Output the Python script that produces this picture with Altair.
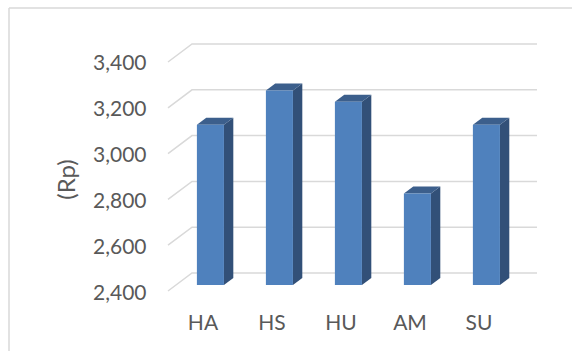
import json
import altair as alt
import pandas as pd

# ---- data -------------------------------------------------------------
CATEGORIES = ["HA", "HS", "HU", "AM", "SU"]
VALUES = [3100, 3250, 3200, 2800, 3100]
Y_TICKS = [2400, 2600, 2800, 3000, 3200, 3400]
Y_TITLE = "(Rp)"

# ---- 3D style constants (in scale units) --------------------------------
BASE = 2400
DEPTH_X = 0.348     # floor depth along x (category units)
DEPTH_Y = 78.6      # floor depth along y (value units)
BAR_FRONT = 0.33    # depth fraction where bar fronts sit
BAR_DEPTH = 0.39    # depth fraction occupied by a bar
BAR_HALF = 0.196    # half bar width (category units)
X_MIN, X_MAX = -0.5, 4.848
Y_MAX = Y_TICKS[-1] + DEPTH_Y

FONT = "Lato"
TEXT_COLOR = "#595959"
GRID_COLOR = "#d9d9d9"
FRONT_COLOR = "#4f81bd"
SIDE_COLOR = "#325078"
TOP_COLOR = "#3c5f8c"

# ---- derived tables ----------------------------------------------------
grid_rows = []
for v in Y_TICKS:
    grid_rows += [
        {"g": v, "o": 0, "x": X_MIN, "y": v},
        {"g": v, "o": 1, "x": X_MIN + DEPTH_X, "y": v + DEPTH_Y},
        {"g": v, "o": 2, "x": X_MAX, "y": v + DEPTH_Y},
    ]
grid_df = pd.DataFrame(grid_rows)

sx = BAR_FRONT * DEPTH_X
sy = BAR_FRONT * DEPTH_Y
dx = BAR_DEPTH * DEPTH_X
dy = BAR_DEPTH * DEPTH_Y

front_rows, side_rows, top_rows = [], [], []
for i, (c, v) in enumerate(zip(CATEGORIES, VALUES)):
    L = i + sx - BAR_HALF
    R = i + sx + BAR_HALF
    T = v + sy
    B = BASE + sy
    front_rows.append({"c": c, "x": L, "x2": R, "y": B, "y2": T})
    side_rows += [
        {"c": c, "x": R, "y": T, "y2": B},
        {"c": c, "x": R + dx, "y": T + dy, "y2": B + dy},
    ]
    top_rows += [
        {"c": c, "x": L, "y": T, "y2": T},
        {"c": c, "x": L + dx, "y": T + dy, "y2": T},
        {"c": c, "x": R, "y": T + dy, "y2": T},
        {"c": c, "x": R + dx, "y": T + dy, "y2": T + dy},
    ]
front_df = pd.DataFrame(front_rows)
side_df = pd.DataFrame(side_rows)
top_df = pd.DataFrame(top_rows)

# ---- scales / axes -----------------------------------------------------
xscale = alt.Scale(domain=[X_MIN, X_MAX], nice=False, zero=False)
yscale = alt.Scale(domain=[BASE, Y_MAX], nice=False, zero=False)

x_axis = alt.Axis(
    values=list(range(len(CATEGORIES))),
    labelExpr=json.dumps(CATEGORIES) + "[datum.value]",
    title="", ticks=False, domain=False, grid=False,
    labelFont=FONT, labelFontSize=21, labelColor=TEXT_COLOR,
    labelPadding=21, labelAngle=0, labelFlush=False,
)
y_axis = alt.Axis(
    values=Y_TICKS, format=",.0f", title=Y_TITLE,
    ticks=False, domain=False, grid=False,
    labelFont=FONT, labelFontSize=21, labelColor=TEXT_COLOR,
    labelPadding=22, labelFlush=False, labelOffset=2,
    titleFont=FONT, titleFontSize=24, titleFontWeight="normal",
    titleColor=TEXT_COLOR, titleX=-101, titleY=135,
    titleBaseline="middle", titleAlign="center",
)

grid = alt.Chart(grid_df).mark_line(color=GRID_COLOR, strokeWidth=1.5).encode(
    x=alt.X("x:Q", scale=xscale, axis=x_axis),
    y=alt.Y("y:Q", scale=yscale, axis=y_axis),
    detail="g:N",
    order="o:Q",
)

side = alt.Chart(side_df).mark_area(color=SIDE_COLOR, opacity=1).encode(
    x=alt.X("x:Q", scale=xscale),
    y=alt.Y("y:Q", scale=yscale, stack=None),
    y2="y2:Q",
    detail="c:N",
)

top = alt.Chart(top_df).mark_area(color=TOP_COLOR, opacity=1).encode(
    x=alt.X("x:Q", scale=xscale),
    y=alt.Y("y:Q", scale=yscale, stack=None),
    y2="y2:Q",
    detail="c:N",
)

front = alt.Chart(front_df).mark_rect(color=FRONT_COLOR).encode(
    x=alt.X("x:Q", scale=xscale),
    x2="x2:Q",
    y=alt.Y("y:Q", scale=yscale),
    y2="y2:Q",
)

frame_data = alt.Data(values=[{"k": 0}])
frame_left = alt.Chart(frame_data).mark_rule(color=GRID_COLOR, strokeWidth=1.5).encode(
    x=alt.value(-159), y=alt.value(-36), y2=alt.value(330)
)
frame_top = alt.Chart(frame_data).mark_rule(color=GRID_COLOR, strokeWidth=1.5).encode(
    x=alt.value(-159), x2=alt.value(420), y=alt.value(-36)
)

chart = (
    alt.layer(frame_left, frame_top, grid, side, top, front)
    .properties(
        width=369, height=247,
        padding={"left": 168, "top": 44, "right": 35, "bottom": 60},
        autosize=alt.AutoSizeParams(type="none"),
        background="white",
    )
    .configure_view(stroke=None)
)

chart.save("out.html", embed_options={"renderer": "svg", "actions": False})
